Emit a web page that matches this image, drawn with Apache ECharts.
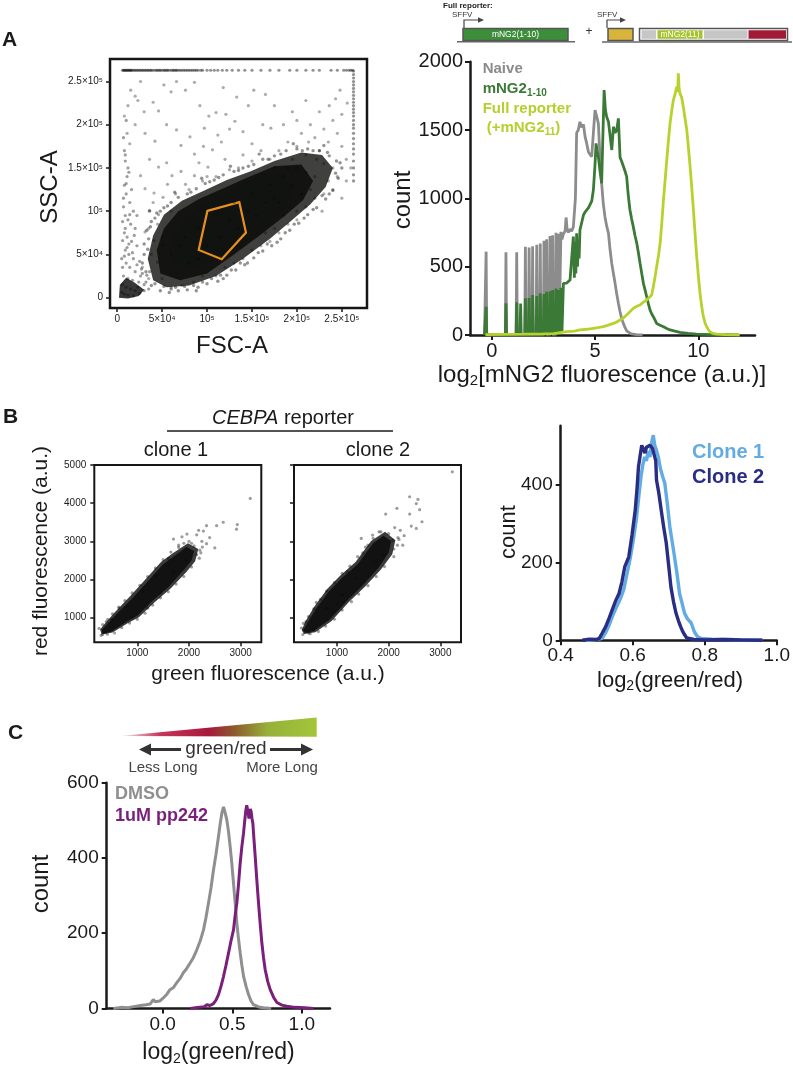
<!DOCTYPE html>
<html><head><meta charset="utf-8">
<script src="https://cdn.jsdelivr.net/npm/echarts@6/dist/echarts.min.js"></script>
<style>html,body{margin:0;padding:0;background:#fff}#c{width:793px;height:1071px}</style>
</head><body><div id="c"></div><script>
// ---------------- DATA ----------------
// Panel A scatter (values in thousands)
const A_ticks = [0, 50, 100, 150, 200, 250];
const A_tickLabels = ['0', '5×10⁴', '10⁵', '1.5×10⁵', '2×10⁵', '2.5×10⁵'];
const A_satLevel = 263;
const A_topRowX = [6,7,8,9,10,11,12,13,14,15,16,17,19,20,22,23,25,26,28,29,31,32,34,35,37,38,40,42,44,45,47,48,50,52,53,55,56,58,60,62,63,65,66,68,70,72,74,76,78,80,82,84,86,88,90,93,95,100,104,108,112,117,122,128,135,142,150,160,170,180,192,200,210,218,225,238,245,252,255,258,260,262];
const A_rightColY = [135,142,150,158,166,172,178,184,190,196,200,205,210,214,218,222,226,230,234,238,242,246,250,254,258,262];
const A_sparse = [[15,240],[20,233],[23,228],[12,222],[26,250],[40,226],[46,216],[52,246],[60,238],[66,250],[76,240],[86,249],[92,222],[97,196],[102,210],[110,214],[121,212],[131,204],[146,222],[152,240],[162,200],[171,196],[31,190],[42,181],[55,200],[66,194],[71,176],[81,186],[86,166],[96,175],[106,171],[116,180],[36,160],[46,151],[55,156],[61,141],[71,146],[76,131],[86,141],[91,156],[101,151],[26,141],[31,126],[41,121],[51,116],[56,131],[36,101],[46,96],[31,76],[41,66],[51,61],[38,50],[45,41],[28,35],[35,22],[50,22],[60,12],[72,14],[85,18],[95,25],[110,25],[120,35],[130,40],[140,45],[150,55],[160,60],[170,65],[180,75],[190,85],[200,100],[210,105],[220,115],[65,120],[80,125],[95,135],[110,140],[125,148],[135,150],[150,158],[160,170],[140,165],[120,160],[100,140],[60,100],[45,85],[50,70],[35,80],[40,110],[20,200],[14,178],[11,190],[8,210],[30,215],[118,243],[133,232],[180,170],[190,180],[195,160],[200,175],[205,190],[210,165],[215,200],[220,185],[225,170],[230,195],[235,180],[240,205],[245,190],[250,175],[255,160],[240,150],[230,155],[250,212],[225,215],[210,145],[200,150],[185,140],[245,140],[255,135],[235,135],[260,150],[220,140],[170,160],[175,150],[195,130],[205,120],[215,125],[200,90],[185,95],[175,80],[165,75],[180,110],[230,120],[240,125],[250,115],[228,100],[243,230],[236,222],[248,240],[256,225],[210,228],[195,215],[175,222],[165,235],[140,192],[125,195],[112,188],[150,178],[185,200],[200,205],[213,180],[222,160],[190,150],[170,130],[150,120],[130,110],[110,95],[90,80],[70,60],[60,50],[100,60],[115,70],[135,80],[155,95],[175,115],[90,45],[80,40],[75,70],[125,90],[145,100],[165,110]];
const A_fringe = [[38,14],[48,8],[58,6],[68,8],[78,9],[90,12],[100,16],[112,19],[122,26],[132,32],[142,38],[152,46],[162,54],[172,60],[182,68],[192,78],[202,86],[212,96],[222,104],[232,114],[240,124],[246,138],[250,150],[60,10],[88,8],[118,22],[145,40],[178,64],[208,92],[236,120],[30,50],[30,62],[33,78],[38,88],[44,98],[52,104],[60,110],[68,116],[78,120],[88,126],[98,132],[108,136],[118,142],[130,146],[140,150],[152,154],[162,160],[175,164],[188,170],[200,172],[212,172],[225,170],[236,164],[244,158],[28,40],[32,30],[36,100],[64,122],[94,138],[126,152],[158,166],[196,178],[230,176],[42,16],[52,13],[65,12],[75,13],[85,14],[95,18],[105,22],[115,26],[127,32],[137,40],[157,52],[167,62],[187,75],[197,85],[218,102],[228,118],[243,144],[248,156],[34,56],[35,68],[37,82],[42,92],[48,100],[56,106],[82,122],[103,134],[113,139],[135,147],[146,152],[168,160],[182,166],[206,170],[218,170],[234,168]];
const A_leftCol = [[8,170],[9,165],[10,205],[12,150],[8,130],[10,120],[14,110],[18,100],[9,95],[12,90],[15,85],[20,80],[8,75],[11,70],[16,65],[22,60],[9,55],[13,50],[18,45],[25,42],[10,40],[14,35],[20,30],[28,28],[7,25],[12,22],[17,20],[24,18],[6,15],[10,12],[15,10],[20,8],[5,6],[8,4],[12,3],[18,2],[25,5],[30,8],[7,105],[11,140],[16,125],[6,88],[13,62],[17,52],[5,45],[22,38],[26,25],[30,15],[35,10],[9,158],[7,185],[22,95],[19,72],[6,35],[8,48],[11,58],[6,66],[9,80],[14,96],[7,115],[10,132],[13,145],[33,26],[27,33],[23,12],[32,18],[36,30]];
const A_haloPoly = [[40,20],[55,12],[80,14],[110,25],[140,45],[170,68],[195,90],[215,108],[232,128],[240,150],[228,165],[205,168],[175,158],[148,146],[122,136],[97,124],[72,112],[52,96],[40,72],[34,45]];
const A_midPoly = [[48,28],[70,20],[100,28],[130,50],[160,73],[187,95],[207,113],[218,135],[205,154],[175,152],[145,139],[117,126],[91,114],[68,100],[52,80],[44,55]];
const A_corePoly = [[62,42],[80,34],[102,40],[128,54],[152,70],[172,88],[188,106],[194,126],[182,141],[160,141],[139,129],[115,116],[94,106],[77,92],[64,74],[58,56]];
const A_originPoly = [[2,0],[12,-1],[24,2],[30,9],[20,17],[10,23],[3,15]];
const A_gate = [[100.4,100.3],[135.9,110.4],[143.3,75.2],[116.3,44.4],[90.7,55.2]];

// Panel A histogram [log2 fluorescence, count]
const A_hist_ticksX = [0, 5, 10];
const A_hist_ticksY = [0, 500, 1000, 1500, 2000];
const naive = [[-0.35,0],[-0.3,0],[-0.27,610],[-0.24,0],[0.66,0],[0.69,605],[0.72,0],[1.18,0],[1.21,605],[1.24,0],[1.60,0],[1.63,645],[1.66,0],[1.78,0],[1.81,640],[1.84,0],[1.95,0],[1.98,650],[2.01,0],[2.15,0],[2.18,660],[2.21,0],[2.32,0],[2.35,670],[2.38,0],[2.50,0],[2.53,690],[2.56,0],[2.63,0],[2.66,700],[2.69,0],[2.79,0],[2.82,725],[2.85,0],[2.92,0],[2.95,730],[2.98,0],[3.08,0],[3.11,748],[3.14,0],[3.20,0],[3.23,740],[3.26,0],[3.32,0],[3.35,755],[3.40,700],[3.47,740],[3.55,760],[3.60,860],[3.65,770],[3.71,750],[3.79,775],[3.87,760],[3.95,790],[4.00,800],[4.05,1000],[4.11,1480],[4.19,1500],[4.27,1560],[4.35,1520],[4.44,1540],[4.52,1450],[4.60,1400],[4.68,1340],[4.76,1320],[4.84,1305],[4.92,1480],[5.00,1646],[5.08,1600],[5.16,1549],[5.24,1300],[5.32,1110],[5.40,960],[5.48,866],[5.56,800],[5.65,744],[5.73,620],[5.81,524],[5.89,450],[5.97,378],[6.05,300],[6.13,232],[6.21,170],[6.29,120],[6.37,85],[6.45,55],[6.53,30],[6.61,17],[6.75,8],[7.0,3],[7.3,0]];
const mng2_1_10 = [[-0.35,0],[-0.3,0],[-0.27,207],[-0.24,0],[0.66,0],[0.69,232],[0.72,0],[1.18,0],[1.21,239],[1.24,0],[1.37,0],[1.40,230],[1.43,0],[1.60,0],[1.63,268],[1.66,0],[1.78,0],[1.81,270],[1.84,0],[1.95,0],[1.98,293],[2.01,0],[2.15,0],[2.18,285],[2.21,0],[2.32,0],[2.35,305],[2.38,0],[2.50,0],[2.53,300],[2.56,0],[2.63,0],[2.66,317],[2.69,0],[2.79,0],[2.82,320],[2.85,0],[2.92,0],[2.95,329],[2.98,0],[3.08,0],[3.11,341],[3.14,0],[3.20,0],[3.23,330],[3.26,0],[3.32,0],[3.35,345],[3.40,20],[3.47,378],[3.55,370],[3.63,380],[3.71,390],[3.79,402],[3.87,560],[3.95,720],[4.00,420],[4.03,680],[4.07,450],[4.11,744],[4.15,500],[4.19,640],[4.23,560],[4.27,768],[4.35,820],[4.44,878],[4.52,900],[4.60,915],[4.68,930],[4.76,939],[4.84,980],[4.92,1061],[5.00,1250],[5.05,1402],[5.10,1350],[5.16,1305],[5.24,1200],[5.32,1110],[5.37,1400],[5.44,1793],[5.50,1650],[5.56,1598],[5.65,1560],[5.73,1573],[5.81,1354],[5.89,1524],[5.97,1480],[6.05,1500],[6.13,1585],[6.21,1300],[6.29,1270],[6.37,1256],[6.45,1200],[6.53,1159],[6.61,1020],[6.69,915],[6.77,850],[6.85,793],[6.93,730],[7.02,671],[7.10,600],[7.18,524],[7.26,450],[7.34,378],[7.42,330],[7.50,280],[7.58,230],[7.66,183],[7.74,155],[7.82,134],[7.90,110],[7.98,85],[8.15,72],[8.31,61],[8.47,48],[8.63,37],[8.87,28],[9.11,20],[9.50,12],[9.92,7],[10.3,5],[10.7,3],[11.3,2],[11.95,0]];
const fullReporter = [[-0.3,3],[0.5,5],[1.5,6],[2.5,8],[3.0,10],[3.63,24],[4.0,28],[4.27,37],[4.6,42],[4.92,49],[5.2,55],[5.4,61],[5.6,70],[5.89,85],[6.05,95],[6.21,110],[6.37,125],[6.53,146],[6.69,170],[6.85,195],[7.02,210],[7.18,220],[7.34,240],[7.5,256],[7.62,275],[7.74,293],[7.82,354],[7.9,420],[7.98,500],[8.07,580],[8.15,671],[8.23,820],[8.31,988],[8.39,1130],[8.47,1280],[8.55,1420],[8.63,1549],[8.71,1640],[8.79,1720],[8.87,1760],[8.95,1817],[9.0,1780],[9.03,1915],[9.07,1800],[9.11,1768],[9.19,1740],[9.27,1671],[9.35,1590],[9.44,1500],[9.52,1370],[9.6,1232],[9.68,1080],[9.76,915],[9.84,740],[9.92,573],[10.0,430],[10.08,305],[10.16,210],[10.24,134],[10.32,90],[10.4,61],[10.48,40],[10.56,24],[10.7,12],[10.89,7],[11.3,3],[12.0,0]];

// Panel B scatter (green, red fluorescence)
const B_ticksX = [1000, 2000, 3000];
const B_ticksY = [1000, 2000, 3000, 4000, 5000];
const B1_core = [[330,580],[500,640],[800,900],[1000,1050],[1300,1450],[1600,1800],[1900,2250],[2050,2500],[2100,2750],[1950,2850],[1700,2600],[1500,2400],[1200,1950],[900,1500],[600,1100],[400,800],[310,680]];
const B1_halo = [[310,560],[520,610],[830,870],[1030,1010],[1330,1400],[1640,1760],[1950,2200],[2120,2480],[2180,2800],[1980,2950],[1680,2680],[1460,2460],[1160,2010],[860,1560],[570,1150],[370,840],[280,690]];
const B1_sparse = [[1700,3060],[1865,3120],[1961,3190],[2187,3290],[2280,3270],[2340,3410],[2535,3410],[2663,3500],[2920,3320],[2935,3440],[3186,4125],[2500,2830],[2340,2940],[2210,2770],[2150,3170],[2050,2950],[2100,2880],[2000,3000],[2250,3000],[1900,2950],[1800,2900],[2400,3100],[2150,2650],[1950,2500],[1700,2200],[1450,1650],[1200,1250],[900,1000],[650,1250],[500,950],[400,900],[330,560],[380,620],[1100,1700],[1350,2100],[1600,2550],
  [300,540],[420,570],[560,600],[700,740],[850,860],[1000,960],[1150,1120],[1300,1330],[1450,1520],[1600,1680],[1750,1880],[1900,2080],[2050,2330],[2200,2560],[260,720],[330,820],[430,960],[520,1100],[640,1280],[760,1450],[900,1650],[1050,1850],[1200,2080],[1350,2300],[1500,2520],[1650,2720],[1800,2840],[2230,2700],[2260,2850]];
const B2_core = [[380,600],[550,650],[860,950],[1200,1450],[1500,1850],[1800,2300],[2000,2700],[2050,3000],[1900,3150],[1700,2950],[1400,2400],[1100,2050],[850,1700],[600,1250],[420,850],[350,680]];
const B2_halo = [[360,575],[580,620],[890,910],[1230,1410],[1540,1810],[1850,2260],[2070,2660],[2130,3030],[1930,3250],[1660,3010],[1360,2460],[1060,2100],[810,1750],[560,1290],[380,880],[320,680]];
const B2_sparse = [[3232,4822],[2406,4168],[2567,4099],[2535,3990],[2160,3864],[2600,3830],[1942,3715],[2406,3715],[2645,3513],[2438,3400],[2535,3340],[2116,3360],[2225,3290],[1813,3250],[1470,3078],[2273,2900],[2080,3030],[2180,3100],[1690,3165],[2300,3150],[2000,3200],[1600,2900],[2100,2800],[1900,2650],[1375,2040],[1100,1600],[800,1250],[350,680],[540,675],[400,900],[600,1400],[450,600],[1200,2200],[1500,2700],[1750,2500],[1000,1350],
  [340,560],[480,580],[640,640],[780,780],[950,960],[1100,1200],[1280,1420],[1420,1620],[1600,1840],[1760,2080],[1920,2340],[2100,2600],[310,730],[350,850],[450,1030],[550,1230],[680,1480],[800,1700],[950,1920],[1100,2160],[1250,2350],[1400,2600],[1550,2850],[1700,3080],[1850,3250],[2170,2900],[2200,3050]];

// Panel B histogram [log2(green/red), count]
const BH_ticksX = [0.4, 0.6, 0.8, 1.0];
const BH_ticksY = [0, 200, 400];
const clone1 = [[0.47,0],[0.5,2],[0.515,5],[0.525,20],[0.535,40],[0.545,65],[0.555,85],[0.565,105],[0.575,130],[0.584,170],[0.593,210],[0.602,260],[0.61,310],[0.617,370],[0.623,420],[0.628,450],[0.633,470],[0.638,460],[0.643,485],[0.648,470],[0.652,505],[0.657,526],[0.661,500],[0.665,490],[0.671,470],[0.677,440],[0.683,420],[0.689,403],[0.696,350],[0.703,291],[0.71,250],[0.716,214],[0.723,170],[0.73,120],[0.737,95],[0.744,69],[0.752,55],[0.762,45],[0.766,35],[0.771,22],[0.78,9],[0.79,5],[0.82,3],[0.88,2],[0.95,1],[0.96,0]];
const clone2 = [[0.46,0],[0.48,3],[0.5,2],[0.507,5],[0.515,18],[0.525,35],[0.535,58],[0.543,78],[0.552,100],[0.562,120],[0.57,150],[0.578,189],[0.589,214],[0.598,270],[0.607,334],[0.612,390],[0.616,445],[0.62,470],[0.625,500],[0.63,505],[0.634,480],[0.638,495],[0.643,490],[0.648,500],[0.655,492],[0.66,490],[0.664,460],[0.666,411],[0.672,380],[0.679,334],[0.686,290],[0.693,250],[0.7,190],[0.706,137],[0.713,100],[0.72,70],[0.727,50],[0.733,35],[0.738,24],[0.744,14],[0.75,6],[0.755,3],[0.77,2],[0.8,1],[0.85,2],[0.9,1],[0.96,0]];

// Panel C histogram
const C_ticksX = [0, 0.5, 1.0];
const C_ticksY = [0, 200, 400, 600];
const dmso = [[-0.355,0],[-0.3,3],[-0.25,2],[-0.21,5],[-0.16,8],[-0.12,10],[-0.09,12],[-0.068,24],[-0.055,18],[-0.044,13],[-0.02,20],[0.004,28],[0.03,38],[0.052,50],[0.075,55],[0.1,68],[0.125,80],[0.148,95],[0.17,105],[0.197,121],[0.22,135],[0.245,156],[0.27,180],[0.293,209],[0.31,240],[0.329,280],[0.347,320],[0.365,368],[0.383,410],[0.401,457],[0.413,490],[0.425,519],[0.437,536],[0.449,520],[0.461,501],[0.473,470],[0.485,430],[0.497,385],[0.509,333],[0.521,280],[0.533,227],[0.545,185],[0.557,148],[0.569,115],[0.581,86],[0.6,58],[0.617,37],[0.635,20],[0.653,10],[0.69,4],[0.725,2],[0.78,0]];
const pp242 = [[0.197,0],[0.25,3],[0.3,5],[0.317,10],[0.34,8],[0.365,13],[0.383,22],[0.401,37],[0.42,60],[0.437,85],[0.455,115],[0.473,147],[0.49,178],[0.509,209],[0.52,245],[0.533,280],[0.545,330],[0.557,386],[0.569,430],[0.581,466],[0.59,500],[0.598,527],[0.604,540],[0.609,545],[0.615,520],[0.62,505],[0.624,510],[0.63,530],[0.636,523],[0.642,505],[0.648,493],[0.656,450],[0.665,404],[0.677,340],[0.689,280],[0.701,225],[0.713,174],[0.725,135],[0.737,103],[0.755,72],[0.773,50],[0.797,30],[0.821,16],[0.857,9],[0.893,6],[0.95,3],[1.02,2],[1.085,0]];

// ---------------- CHART ----------------
const FONT = 'Liberation Sans, Arial, Helvetica, sans-serif';
const INK = '#1a1a1a';

function mkAxis(gi, min, max, ticks, o) {
  o = o || {};
  return {
    type: 'value', gridIndex: gi, min: min, max: max,
    axisLine: {show: !!o.line, onZero: false, lineStyle: {color: INK, width: o.lw || 2.5}},
    axisTick: {show: true, inside: false, length: o.tickLen || 5, customValues: ticks, lineStyle: {color: INK, width: o.tw || 2}},
    axisLabel: {show: o.labels !== false, customValues: ticks, fontSize: o.fs || 18, color: INK, fontFamily: FONT, margin: o.margin || 8,
      formatter: o.fmt || function (v) { return String(v); }},
    splitLine: {show: false}
  };
}
function polySeries(gi, pts, fill, stroke, lw) {
  return {
    type: 'custom', xAxisIndex: gi, yAxisIndex: gi, data: pts, silent: true, clip: true,
    renderItem: function (params, api) {
      if (params.dataIndex !== 0) return null;
      return {type: 'polygon', shape: {points: pts.map(function (p) { return api.coord(p); })},
        style: {fill: fill, stroke: stroke || null, lineWidth: lw || 0}};
    }
  };
}
function lineSeries(gi, data, color, w) {
  return {type: 'line', xAxisIndex: gi, yAxisIndex: gi, data: data, showSymbol: false, symbol: 'none',
    lineStyle: {color: color, width: w}, silent: true};
}
function dots(gi, data, color, size) {
  return {type: 'scatter', xAxisIndex: gi, yAxisIndex: gi, data: data, symbolSize: size,
    itemStyle: {color: color}, silent: true};
}
function txt(x, y, text, o) {
  o = o || {};
  return {type: 'text', x: x, y: y, rotation: o.rot || 0, silent: true,
    style: {text: text, x: 0, y: 0, fill: o.color || INK, fontSize: o.fs || 20, fontWeight: o.bold ? 'bold' : 'normal',
      fontFamily: FONT, fontStyle: o.italic ? 'italic' : 'normal',
      align: o.align || 'center', verticalAlign: 'middle', textAlign: o.align || 'center', textVerticalAlign: 'middle',
      rich: o.rich}};
}
function subRich(fs, color, pad, bold) {
  return {sub: {fontSize: fs, fill: color, fontFamily: FONT, fontWeight: bold ? 'bold' : 'normal', padding: [pad, 0, 0, 0]}};
}

const A_fmt = function (v) { const i = A_ticks.indexOf(v); return i >= 0 ? A_tickLabels[i] : ''; };

const grids = [
  {left: 110, top: 59, width: 257, height: 249, show: true, borderColor: '#161616', borderWidth: 2.5, backgroundColor: 'transparent'},
  {left: 470, top: 61.7, width: 285, height: 273.3},
  {left: 94.3, top: 465, width: 167, height: 177.3, show: true, borderColor: '#161616', borderWidth: 2, backgroundColor: 'transparent'},
  {left: 294, top: 465, width: 167, height: 177.3, show: true, borderColor: '#161616', borderWidth: 2, backgroundColor: 'transparent'},
  {left: 560.7, top: 425.8, width: 220, height: 214.5},
  {left: 106.7, top: 782.7, width: 223.3, height: 225.8}
];

const xAxes = [
  mkAxis(0, -8, 278, A_ticks, {fs: 10, margin: 6, tickLen: 4, tw: 1.5, fmt: A_fmt}),
  mkAxis(1, -1.05, 12.74, A_hist_ticksX, {line: true, fs: 20, margin: 6}),
  mkAxis(2, 168, 3400, B_ticksX, {fs: 10, margin: 6, tickLen: 4, tw: 1.5}),
  mkAxis(3, 168, 3400, B_ticksX, {fs: 10, margin: 6, tickLen: 4, tw: 1.5}),
  mkAxis(4, 0.4, 1.0, BH_ticksX, {line: true, fs: 19, margin: 6, fmt: function (v) { return v.toFixed(1); }}),
  mkAxis(5, -0.403, 1.203, C_ticksX, {line: true, fs: 19, margin: 7, fmt: function (v) { return v.toFixed(1); }})
];
const yAxes = [
  mkAxis(0, -12, 276, A_ticks, {fs: 10, margin: 7, tickLen: 4, tw: 1.5, fmt: A_fmt}),
  mkAxis(1, 0, 2000, A_hist_ticksY, {line: true, fs: 20, margin: 7}),
  mkAxis(2, 356, 5000, B_ticksY, {fs: 10, margin: 8, tickLen: 4, tw: 1.5}),
  mkAxis(3, 356, 5000, B_ticksY, {labels: false, tickLen: 4, tw: 1.5}),
  mkAxis(4, 0, 550, BH_ticksY, {line: true, fs: 19, margin: 8}),
  mkAxis(5, 0, 600, C_ticksY, {line: true, fs: 19, margin: 8})
];

const DOT = 'rgba(10,10,10,0.5)';
const series = [
  // A scatter
  polySeries(0, A_haloPoly, 'rgba(22,22,20,0.82)'),
  polySeries(0, A_midPoly, 'rgba(15,16,14,0.92)'),
  polySeries(0, A_corePoly, '#111310'),
  polySeries(0, A_originPoly, 'rgba(20,20,20,0.85)'),
  dots(0, A_topRowX.map(function (x) { return [x, A_satLevel]; }), 'rgba(10,10,10,0.55)', 3.2),
  dots(0, A_rightColY.map(function (y) { return [A_satLevel, y]; }), 'rgba(10,10,10,0.55)', 3.2),
  dots(0, A_sparse, 'rgba(10,10,10,0.42)', 3.2),
  dots(0, A_fringe, 'rgba(10,10,10,0.55)', 3.4),
  dots(0, A_leftCol, 'rgba(10,10,10,0.5)', 3.2),
  polySeries(0, A_gate, 'rgba(0,0,0,0)', '#e8901e', 2.2),
  // A histogram
  lineSeries(1, naive, '#8c8c8c', 2.8),
  lineSeries(1, mng2_1_10, '#3b7a36', 2.8),
  lineSeries(1, fullReporter, '#b8d12c', 2.8),
  // B scatter
  polySeries(2, B1_halo, 'rgba(25,25,25,0.85)'),
  polySeries(2, B1_core, '#121212'),
  dots(2, B1_sparse, DOT, 3.2),
  polySeries(3, B2_halo, 'rgba(25,25,25,0.85)'),
  polySeries(3, B2_core, '#121212'),
  dots(3, B2_sparse, DOT, 3.2),
  // B histogram
  lineSeries(4, clone1, '#62abe3', 3.4),
  lineSeries(4, clone2, '#2a2d84', 3.4),
  // C histogram
  lineSeries(5, dmso, '#8f8f8f', 3),
  lineSeries(5, pp242, '#7a1f7c', 3)
];

const graphics = [
  // panel letters
  txt(2, 40, 'A', {fs: 21, bold: true, align: 'left'}),
  txt(3, 417, 'B', {fs: 21, bold: true, align: 'left'}),
  txt(8, 733, 'C', {fs: 21, bold: true, align: 'left'}),
  // top construct diagram
  txt(443, 5.5, 'Full reporter:', {fs: 8, bold: true, align: 'left', color: '#222'}),
  txt(452, 15, 'SFFV', {fs: 8, align: 'left', color: '#333'}),
  {type: 'polyline', silent: true, shape: {points: [[464, 28], [464, 20], [479, 20]]}, style: {stroke: '#444', lineWidth: 1.2, fill: null}},
  {type: 'polygon', silent: true, shape: {points: [[484, 20], [478, 17.3], [478, 22.7]]}, style: {fill: '#444'}},
  {type: 'line', silent: true, shape: {x1: 457, y1: 41.7, x2: 575, y2: 41.7}, style: {stroke: '#666', lineWidth: 1.5}},
  {type: 'rect', silent: true, shape: {x: 463, y: 28.5, width: 105, height: 12}, style: {fill: '#3d8e3a', stroke: '#555', lineWidth: 1.5}},
  txt(515.5, 34.7, 'mNG2(1-10)', {fs: 8.5, color: '#fff'}),
  txt(589, 32, '+', {fs: 12, color: '#333'}),
  txt(597, 15, 'SFFV', {fs: 8, align: 'left', color: '#333'}),
  {type: 'polyline', silent: true, shape: {points: [[607, 28], [607, 20], [621, 20]]}, style: {stroke: '#444', lineWidth: 1.2, fill: null}},
  {type: 'polygon', silent: true, shape: {points: [[626, 20], [620, 17.3], [620, 22.7]]}, style: {fill: '#444'}},
  {type: 'line', silent: true, shape: {x1: 602, y1: 42, x2: 792, y2: 42}, style: {stroke: '#666', lineWidth: 1.5}},
  {type: 'rect', silent: true, shape: {x: 608, y: 28.5, width: 25, height: 12}, style: {fill: '#d9b43a', stroke: '#555', lineWidth: 1.5}},
  {type: 'rect', silent: true, shape: {x: 639.5, y: 28.5, width: 148, height: 12}, style: {fill: '#fff', stroke: '#555', lineWidth: 1.5}},
  {type: 'rect', silent: true, shape: {x: 641.5, y: 30.2, width: 14.5, height: 8.6}, style: {fill: '#c6c6c6'}},
  {type: 'rect', silent: true, shape: {x: 657.5, y: 30.2, width: 45, height: 8.6}, style: {fill: '#a6c22e'}},
  txt(680, 34.7, 'mNG2(11)', {fs: 8.5, color: '#fff'}),
  {type: 'rect', silent: true, shape: {x: 704, y: 30.2, width: 43.5, height: 8.6}, style: {fill: '#c6c6c6'}},
  {type: 'rect', silent: true, shape: {x: 748.5, y: 30.2, width: 37.5, height: 8.6}, style: {fill: '#a21b36'}},
  // A scatter titles
  txt(50, 187, 'SSC-A', {fs: 24, rot: Math.PI / 2}),
  txt(232, 346, 'FSC-A', {fs: 24}),
  // A histogram titles and legend
  txt(403, 200, 'count', {fs: 24, rot: Math.PI / 2}),
  txt(602, 375, 'log{sub|2}[mNG2 fluorescence (a.u.)]', {fs: 24, rich: subRich(15, INK, 12)}),
  txt(482.7, 69, 'Naive', {fs: 15, bold: true, align: 'left', color: '#8a8a8a'}),
  txt(482.7, 88.5, 'mNG2{sub|1-10}', {fs: 15, bold: true, align: 'left', color: '#3b7a36', rich: subRich(10, '#3b7a36', 9, true)}),
  txt(482.7, 108.5, 'Full reporter', {fs: 15, bold: true, align: 'left', color: '#b5cf2c'}),
  txt(486.7, 128, '(+mNG2{sub|11})', {fs: 15, bold: true, align: 'left', color: '#b5cf2c', rich: subRich(10, '#b5cf2c', 9, true)}),
  // B scatter titles
  txt(283, 418, '{it|CEBPA} reporter', {fs: 20, rich: {it: {fontSize: 20, fontStyle: 'italic', fontFamily: FONT, fill: INK}}}),
  {type: 'line', silent: true, shape: {x1: 167, y1: 431, x2: 393, y2: 431}, style: {stroke: INK, lineWidth: 1.6}},
  txt(176, 450, 'clone 1', {fs: 20}),
  txt(378, 450, 'clone 2', {fs: 20}),
  txt(41, 551, 'red fluorescence (a.u.)', {fs: 21, rot: Math.PI / 2}),
  txt(268, 674, 'green fluorescence (a.u.)', {fs: 21}),
  // B histogram
  txt(509, 532, 'count', {fs: 22, rot: Math.PI / 2}),
  txt(670, 681, 'log{sub|2}(green/red)', {fs: 22, rich: subRich(14, INK, 11)}),
  txt(692, 452, 'Clone 1', {fs: 20, bold: true, align: 'left', color: '#62abe3'}),
  txt(692, 477, 'Clone 2', {fs: 20, bold: true, align: 'left', color: '#2a2d84'}),
  // C header: gradient wedge, arrows
  {type: 'polygon', silent: true, shape: {points: [[120, 736], [316.7, 717.5], [316.7, 736.7]]},
    style: {fill: new echarts.graphic.LinearGradient(0, 0, 1, 0, [
      {offset: 0, color: '#f2f2f2'}, {offset: 0.2, color: '#c8375a'}, {offset: 0.45, color: '#a8183c'},
      {offset: 0.58, color: '#8c5a2c'}, {offset: 0.75, color: '#97b03a'}, {offset: 1, color: '#a2c63a'}])}},
  {type: 'line', silent: true, shape: {x1: 148, y1: 749.5, x2: 181, y2: 749.5}, style: {stroke: '#333', lineWidth: 3}},
  {type: 'polygon', silent: true, shape: {points: [[139, 749.5], [151, 743.5], [151, 755.5]]}, style: {fill: '#333'}},
  {type: 'line', silent: true, shape: {x1: 270, y1: 749.5, x2: 304, y2: 749.5}, style: {stroke: '#333', lineWidth: 3}},
  {type: 'polygon', silent: true, shape: {points: [[313, 749.5], [301, 743.5], [301, 755.5]]}, style: {fill: '#333'}},
  txt(226, 749, 'green/red', {fs: 19, color: '#333'}),
  txt(163, 767.7, 'Less Long', {fs: 15, color: '#444'}),
  txt(282, 767.7, 'More Long', {fs: 15, color: '#444'}),
  // C titles and legend
  txt(41.7, 884, 'count', {fs: 24, rot: Math.PI / 2}),
  txt(218.5, 1053, 'log{sub|2}(green/red)', {fs: 23, rich: subRich(14, INK, 12)}),
  txt(115, 794, 'DMSO', {fs: 18, bold: true, align: 'left', color: '#8f8f8f'}),
  txt(115, 816, '1uM pp242', {fs: 18, bold: true, align: 'left', color: '#7a1f7c'})
];

const chart = echarts.init(document.getElementById('c'), null, {renderer: 'canvas', width: 793, height: 1071});
chart.setOption({
  animation: false,
  backgroundColor: '#fff',
  textStyle: {fontFamily: FONT},
  grid: grids,
  xAxis: xAxes,
  yAxis: yAxes,
  series: series,
  graphic: {elements: graphics}
});
</script></body></html>
